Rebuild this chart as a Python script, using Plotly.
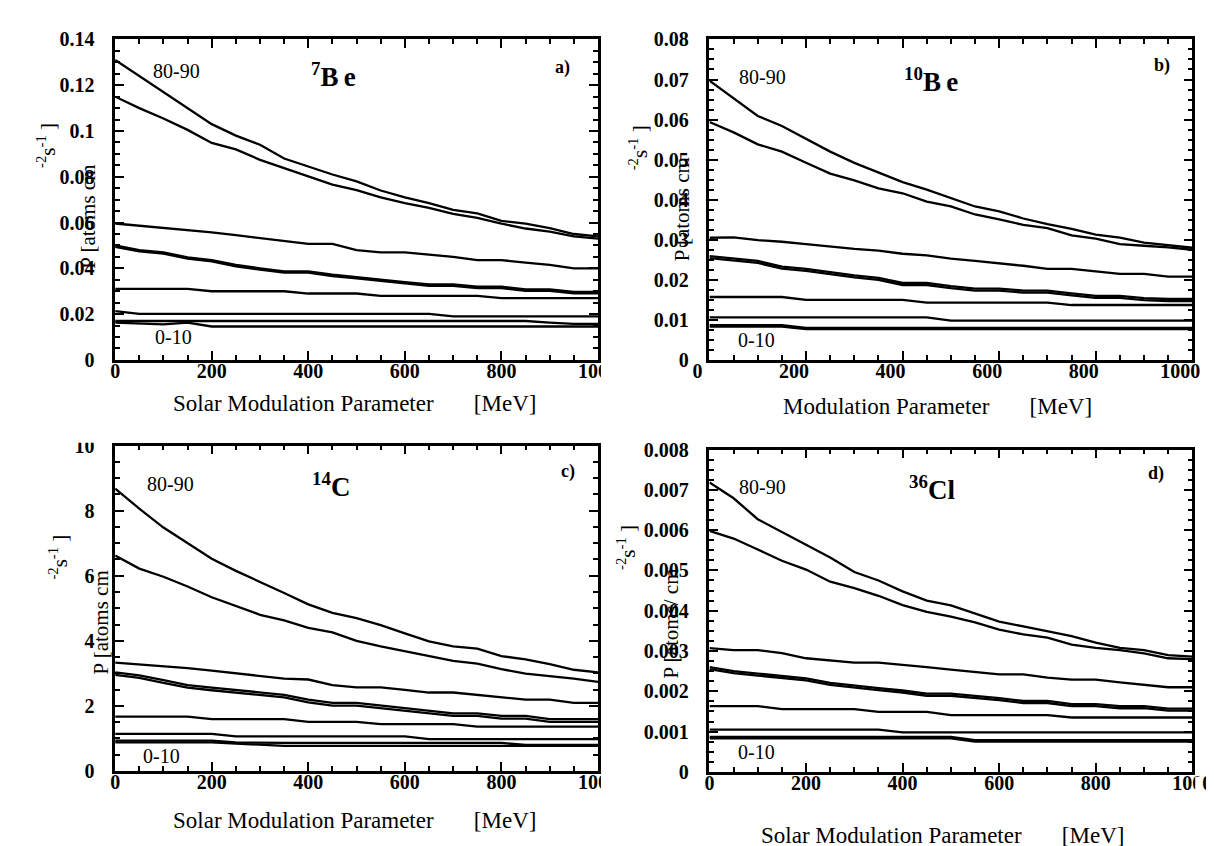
import plotly.graph_objects as go

W, H = 1214, 846

# ---------------- data ----------------
x_mev = [0, 50, 100, 150, 200, 250, 300, 350, 400, 450, 500,
         550, 600, 650, 700, 750, 800, 850, 900, 950, 1000]

bands = ["80-90", "70-80", "60-70", "50-60", "40-50", "30-40", "20-30", "10-20", "0-10"]

# a) 7Be
be7_8090 = [0.131, 0.124, 0.117, 0.110, 0.103, 0.098, 0.094, 0.088, 0.0846, 0.081, 0.078,
            0.074, 0.071, 0.0685, 0.0655, 0.064, 0.0607, 0.0595, 0.0576, 0.055, 0.054]
be7_7080 = [0.115, 0.110, 0.1055, 0.1005, 0.0948, 0.092, 0.0874, 0.0837, 0.080, 0.0766, 0.0742,
            0.071, 0.0685, 0.0664, 0.0638, 0.062, 0.0595, 0.0574, 0.056, 0.054, 0.053]
be7_6070 = [0.0596, 0.0587, 0.0578, 0.0568, 0.0557, 0.0545, 0.0532, 0.052, 0.0507, 0.0507, 0.048,
            0.047, 0.047, 0.046, 0.045, 0.0436, 0.0436, 0.0425, 0.0415, 0.040, 0.040]
be7_5060 = [0.050, 0.048, 0.047, 0.0448, 0.0436, 0.0415, 0.040, 0.0387, 0.0387, 0.0372, 0.0362,
            0.035, 0.034, 0.033, 0.033, 0.032, 0.032, 0.0308, 0.0308, 0.0297, 0.0297]
be7_4050 = [0.0494, 0.0474, 0.0464, 0.0442, 0.043, 0.0409, 0.0394, 0.0381, 0.0381, 0.0366, 0.0356,
            0.0344, 0.0334, 0.0324, 0.0324, 0.0314, 0.0314, 0.0302, 0.0302, 0.0291, 0.0291]
be7_3040 = [0.031, 0.031, 0.031, 0.031, 0.030, 0.030, 0.030, 0.030, 0.029, 0.029, 0.029,
            0.028, 0.028, 0.028, 0.028, 0.028, 0.027, 0.027, 0.027, 0.027, 0.027]
be7_2030 = [0.0213, 0.0201, 0.0201, 0.0201, 0.0201, 0.0201, 0.0201, 0.0201, 0.0201, 0.0201, 0.0201,
            0.0201, 0.0201, 0.0201, 0.019, 0.019, 0.019, 0.019, 0.019, 0.019, 0.019]
be7_1020 = [0.017, 0.017, 0.017, 0.017, 0.017, 0.017, 0.017, 0.017, 0.017, 0.017, 0.017,
            0.017, 0.017, 0.017, 0.017, 0.017, 0.017, 0.017, 0.0163, 0.0157, 0.0157]
be7_0010 = [0.0163, 0.016, 0.0155, 0.0163, 0.0146, 0.0146, 0.0146, 0.0146, 0.0146, 0.0146, 0.0146,
            0.0146, 0.0146, 0.0146, 0.0146, 0.0146, 0.0146, 0.0146, 0.0146, 0.0146, 0.0146]

# b) 10Be
be10_8090 = [0.0697, 0.0653, 0.0609, 0.0584, 0.0552, 0.052, 0.0492, 0.0468, 0.0444, 0.0425, 0.0404,
             0.0383, 0.0371, 0.0353, 0.0339, 0.0327, 0.0313, 0.0305, 0.0293, 0.0287, 0.028]
be10_7080 = [0.0594, 0.0568, 0.0538, 0.052, 0.0492, 0.0465, 0.0448, 0.0428, 0.0416, 0.0395, 0.0383,
             0.0363, 0.0351, 0.0337, 0.0329, 0.0311, 0.0303, 0.0289, 0.0285, 0.0281, 0.0275]
be10_6070 = [0.0305, 0.0306, 0.0299, 0.0295, 0.0289, 0.0283, 0.0277, 0.0273, 0.0265, 0.0261, 0.0253,
             0.0247, 0.0241, 0.0235, 0.0227, 0.0227, 0.0221, 0.0215, 0.0215, 0.0208, 0.0208]
be10_5060 = [0.0259, 0.0253, 0.0247, 0.0233, 0.0227, 0.0219, 0.0211, 0.0205, 0.0192, 0.0192, 0.0184,
             0.0178, 0.0178, 0.0173, 0.0173, 0.0166, 0.016, 0.016, 0.0154, 0.0152, 0.0152]
be10_4050 = [0.0254, 0.0248, 0.0242, 0.0228, 0.0222, 0.0214, 0.0206, 0.020, 0.0187, 0.0187, 0.0179,
             0.0173, 0.0173, 0.0168, 0.0168, 0.0161, 0.0155, 0.0155, 0.0149, 0.0147, 0.0147]
be10_3040 = [0.0157, 0.0157, 0.0157, 0.0157, 0.015, 0.015, 0.015, 0.015, 0.015, 0.0143, 0.0143,
             0.0143, 0.0143, 0.0143, 0.0143, 0.0137, 0.0137, 0.0137, 0.0137, 0.0137, 0.0137]
be10_2030 = [0.0106, 0.0106, 0.0106, 0.0106, 0.0106, 0.0106, 0.0106, 0.0106, 0.0106, 0.0106, 0.0098,
             0.0098, 0.0098, 0.0098, 0.0098, 0.0098, 0.0098, 0.0098, 0.0098, 0.0098, 0.0098]
be10_1020 = [0.0087, 0.0087, 0.0087, 0.0087, 0.0080, 0.0080, 0.0080, 0.0080, 0.0080, 0.0080, 0.0080,
             0.0080, 0.0080, 0.0080, 0.0080, 0.0080, 0.0080, 0.0080, 0.0080, 0.0080, 0.0080]
be10_0010 = [0.0083, 0.0083, 0.0083, 0.0083, 0.0077, 0.0077, 0.0077, 0.0077, 0.0077, 0.0077, 0.0077,
             0.0077, 0.0077, 0.0077, 0.0077, 0.0077, 0.0077, 0.0077, 0.0077, 0.0077, 0.0077]

# c) 14C
c14_8090 = [8.68, 8.06, 7.48, 7.01, 6.52, 6.15, 5.82, 5.47, 5.12, 4.86, 4.70,
            4.48, 4.23, 3.98, 3.83, 3.76, 3.53, 3.43, 3.28, 3.11, 3.03]
c14_7080 = [6.62, 6.22, 5.97, 5.67, 5.34, 5.07, 4.80, 4.63, 4.40, 4.26, 4.00,
            3.83, 3.68, 3.53, 3.38, 3.30, 3.13, 2.99, 2.92, 2.84, 2.74]
c14_6070 = [3.33, 3.28, 3.23, 3.16, 3.08, 3.00, 2.94, 2.84, 2.81, 2.64, 2.57,
            2.57, 2.49, 2.41, 2.41, 2.34, 2.27, 2.19, 2.19, 2.09, 2.09]
c14_5060 = [3.03, 2.94, 2.79, 2.64, 2.56, 2.49, 2.41, 2.34, 2.19, 2.09, 2.09,
            2.01, 1.94, 1.84, 1.77, 1.77, 1.69, 1.69, 1.59, 1.59, 1.59]
c14_4050 = [2.95, 2.86, 2.71, 2.56, 2.48, 2.41, 2.33, 2.26, 2.11, 2.01, 2.01,
            1.93, 1.86, 1.76, 1.69, 1.69, 1.61, 1.61, 1.51, 1.51, 1.51]
c14_3040 = [1.67, 1.67, 1.67, 1.67, 1.59, 1.59, 1.59, 1.59, 1.51, 1.51, 1.51,
            1.44, 1.44, 1.44, 1.44, 1.36, 1.36, 1.36, 1.36, 1.36, 1.36]
c14_2030 = [1.14, 1.14, 1.14, 1.14, 1.14, 1.06, 1.06, 1.06, 1.06, 1.06, 1.06,
            1.06, 1.06, 0.98, 0.98, 0.98, 0.98, 0.98, 0.98, 0.98, 0.98]
c14_1020 = [0.93, 0.93, 0.93, 0.93, 0.93, 0.88, 0.86, 0.86, 0.86, 0.86, 0.86,
            0.86, 0.86, 0.86, 0.86, 0.86, 0.86, 0.80, 0.80, 0.80, 0.80]
c14_0010 = [0.88, 0.88, 0.88, 0.88, 0.88, 0.84, 0.80, 0.77, 0.77, 0.77, 0.77,
            0.77, 0.77, 0.77, 0.77, 0.77, 0.77, 0.77, 0.77, 0.77, 0.77]

# d) 36Cl
cl36_8090 = [0.00718, 0.00679, 0.00627, 0.00595, 0.00563, 0.00532, 0.00496, 0.00475, 0.00448, 0.00425, 0.00413,
             0.00393, 0.00373, 0.00361, 0.00349, 0.00337, 0.00321, 0.00308, 0.00302, 0.0029, 0.00286]
cl36_7080 = [0.00598, 0.00579, 0.00552, 0.00524, 0.00502, 0.00472, 0.00456, 0.00437, 0.00414, 0.00397, 0.00385,
             0.00371, 0.00353, 0.00341, 0.00333, 0.00316, 0.00308, 0.00302, 0.00294, 0.00282, 0.0028]
cl36_6070 = [0.00307, 0.00302, 0.00302, 0.00295, 0.00282, 0.00276, 0.00271, 0.00271, 0.00266, 0.0026, 0.00254,
             0.00248, 0.00242, 0.00242, 0.00234, 0.00229, 0.00229, 0.00222, 0.00216, 0.0021, 0.0021]
cl36_5060 = [0.0026, 0.0025, 0.00244, 0.00238, 0.00232, 0.00221, 0.00214, 0.00208, 0.00202, 0.00194, 0.00194,
             0.00189, 0.00183, 0.00176, 0.00176, 0.00168, 0.00168, 0.00163, 0.00163, 0.00157, 0.00157]
cl36_4050 = [0.00255, 0.00245, 0.00239, 0.00233, 0.00227, 0.00216, 0.00209, 0.00203, 0.00197, 0.00189, 0.00189,
             0.00184, 0.00178, 0.00171, 0.00171, 0.00163, 0.00163, 0.00158, 0.00158, 0.00152, 0.00152]
cl36_3040 = [0.00163, 0.00163, 0.00163, 0.00156, 0.00156, 0.00156, 0.00156, 0.00149, 0.00149, 0.00149, 0.00141,
             0.00141, 0.00141, 0.00141, 0.00141, 0.00135, 0.00135, 0.00135, 0.00135, 0.00135, 0.00135]
cl36_2030 = [0.00105, 0.00105, 0.00105, 0.00105, 0.00105, 0.00105, 0.00105, 0.00105, 0.00098, 0.00098, 0.00098,
             0.00098, 0.00098, 0.00098, 0.00098, 0.00098, 0.00098, 0.00098, 0.00098, 0.00098, 0.00098]
cl36_1020 = [0.00087, 0.00087, 0.00087, 0.00087, 0.00087, 0.00087, 0.00087, 0.00087, 0.00087, 0.00087, 0.00087,
             0.00079, 0.00079, 0.00079, 0.00079, 0.00079, 0.00079, 0.00079, 0.00079, 0.00079, 0.00079]
cl36_0010 = [0.00083, 0.00083, 0.00083, 0.00083, 0.00083, 0.00083, 0.00083, 0.00083, 0.00083, 0.00083, 0.00083,
             0.00075, 0.00075, 0.00075, 0.00075, 0.00075, 0.00075, 0.00075, 0.00075, 0.00075, 0.00075]

y_max = [0.14, 0.08, 10, 0.008]
y_dtick = [0.02, 0.01, 2, 0.001]
x_ticks = [0, 200, 400, 600, 800, 1000]
isotopes = ["<sup>7</sup>B\u2009e", "<sup>10</sup>B\u2009e", "<sup>14</sup>C", "<sup>36</sup>Cl"]
panel_tags = ["a)", "b)", "c)", "d)"]
GAP = "\u00a0" * 7
x_titles = ["Solar Modulation Parameter" + GAP + "[MeV]",
            "Modulation Parameter" + GAP + "[MeV]",
            "Solar Modulation Parameter" + GAP + "[MeV]",
            "Solar Modulation Parameter" + GAP + "[MeV]"]
y_title_main = ["P [atoms cm", "P [atoms cm", "P [atoms cm", "P [atoms/ cm"]

panel_series = [
    [be7_8090, be7_7080, be7_6070, be7_5060, be7_4050, be7_3040, be7_2030, be7_1020, be7_0010],
    [be10_8090, be10_7080, be10_6070, be10_5060, be10_4050, be10_3040, be10_2030, be10_1020, be10_0010],
    [c14_8090, c14_7080, c14_6070, c14_5060, c14_4050, c14_3040, c14_2030, c14_1020, c14_0010],
    [cl36_8090, cl36_7080, cl36_6070, cl36_5060, cl36_4050, cl36_3040, cl36_2030, cl36_1020, cl36_0010],
]

# ---------------- layout geometry (pixels) ----------------
# (left, right, top, bottom) of each plot frame
frames = [(93, 591, 21, 350), (706, 1204, 21, 350), (93, 591, 438, 772), (706, 1204, 442, 773)]


def px(x):
    return x / W


def py(y):
    return 1 - y / H


SERIF = "Liberation Serif"
fig = go.Figure()

for i, series in enumerate(panel_series):
    sfx = "" if i == 0 else str(i + 1)
    for name, vals in zip(bands, series):
        fig.add_trace(go.Scatter(
            x=x_mev, y=vals, mode="lines", name=name,
            line=dict(color="black", width=2.3),
            xaxis="x" + sfx, yaxis="y" + sfx, showlegend=False,
        ))

axis_common = dict(
    showline=True, linecolor="black", linewidth=2.5, mirror="allticks",
    ticks="inside", tickcolor="black", tickwidth=2, ticklen=9,
    showgrid=False, zeroline=False,
    tickfont=dict(family=SERIF, size=20, color="black", weight="bold"),
)

layout = dict(
    width=W, height=H, margin=dict(l=0, r=0, t=0, b=0),
    paper_bgcolor="white", plot_bgcolor="white", showlegend=False,
)

annotations = []
shapes = []
for i, (l, r, t, b) in enumerate(frames):
    sfx = "" if i == 0 else str(i + 1)
    layout["xaxis" + sfx] = dict(
        axis_common, domain=[px(l), px(r)], range=[0, 1000], anchor="y" + sfx,
        tickvals=x_ticks, ticklabelstandoff=-9,
        ticklabelshift=(-12 if i == 1 else 0),
        minor=dict(ticks="inside", dtick=50, ticklen=5, tickwidth=1.5, tickcolor="black"),
    )
    layout["yaxis" + sfx] = dict(
        axis_common, domain=[py(b), py(t)], range=[0, y_max[i]], anchor="x" + sfx,
        dtick=y_dtick[i], tick0=0, ticklabelstandoff=14,
        minor=dict(ticks="inside", dtick=y_dtick[i] / 4, ticklen=5, tickwidth=1.5, tickcolor="black"),
    )

# text positions (pixels)
lab_8090 = [(156, 53), (761, 60), (150, 477), (761, 480)]
lab_0010 = [(153, 327), (754, 330), (141, 757), (754, 753)]
lab_iso = [(318, 58), (934, 63), (316, 478), (935, 482)]
lab_tag = [(554, 50), (1173, 48), (560, 465), (1167, 467)]
lab_xt = [(340, 395), (941, 398), (340, 823), (946, 838)]
lab_yt1 = [(65, 203), (678, 195), (78, 620), (666, 621)]
lab_yt2 = [(22, 130), (633, 132), (35, 552), (621, 543)]

for i in range(4):
    def ann(pos, text, size, weight="normal", angle=0):
        annotations.append(dict(
            x=px(pos[0]), y=py(pos[1]), xref="paper", yref="paper", text=text,
            showarrow=False, xanchor="center", yanchor="middle", textangle=angle,
            font=dict(family=SERIF, size=size, color="black", weight=weight),
        ))
    ann(lab_8090[i], "80-90", 20)
    ann(lab_0010[i], "0-10", 20)
    ann(lab_iso[i], isotopes[i], 27, "bold")
    ann(lab_tag[i], panel_tags[i], 18, "bold")
    ann(lab_xt[i], x_titles[i], 23)
    ann(lab_yt1[i], y_title_main[i], 21, angle=-90)
    ann(lab_yt2[i], "<sup>-2</sup>s<sup>-1</sup> ]", 21, angle=-90)

# crop edges of the original composite (clipped tick labels)
for (x0, x1, y0, y1) in [(594, 640, 352, 384), (594, 640, 775, 808),
                         (1207, 1214, 778, 812), (0, 88, 405, 435)]:
    shapes.append(dict(type="rect", xref="paper", yref="paper",
                       x0=px(x0), x1=px(x1), y0=py(y1), y1=py(y0),
                       fillcolor="white", line=dict(width=0), layer="above"))

layout["annotations"] = annotations
layout["shapes"] = shapes
fig.update_layout(**layout)
fig.write_html("out.html")
